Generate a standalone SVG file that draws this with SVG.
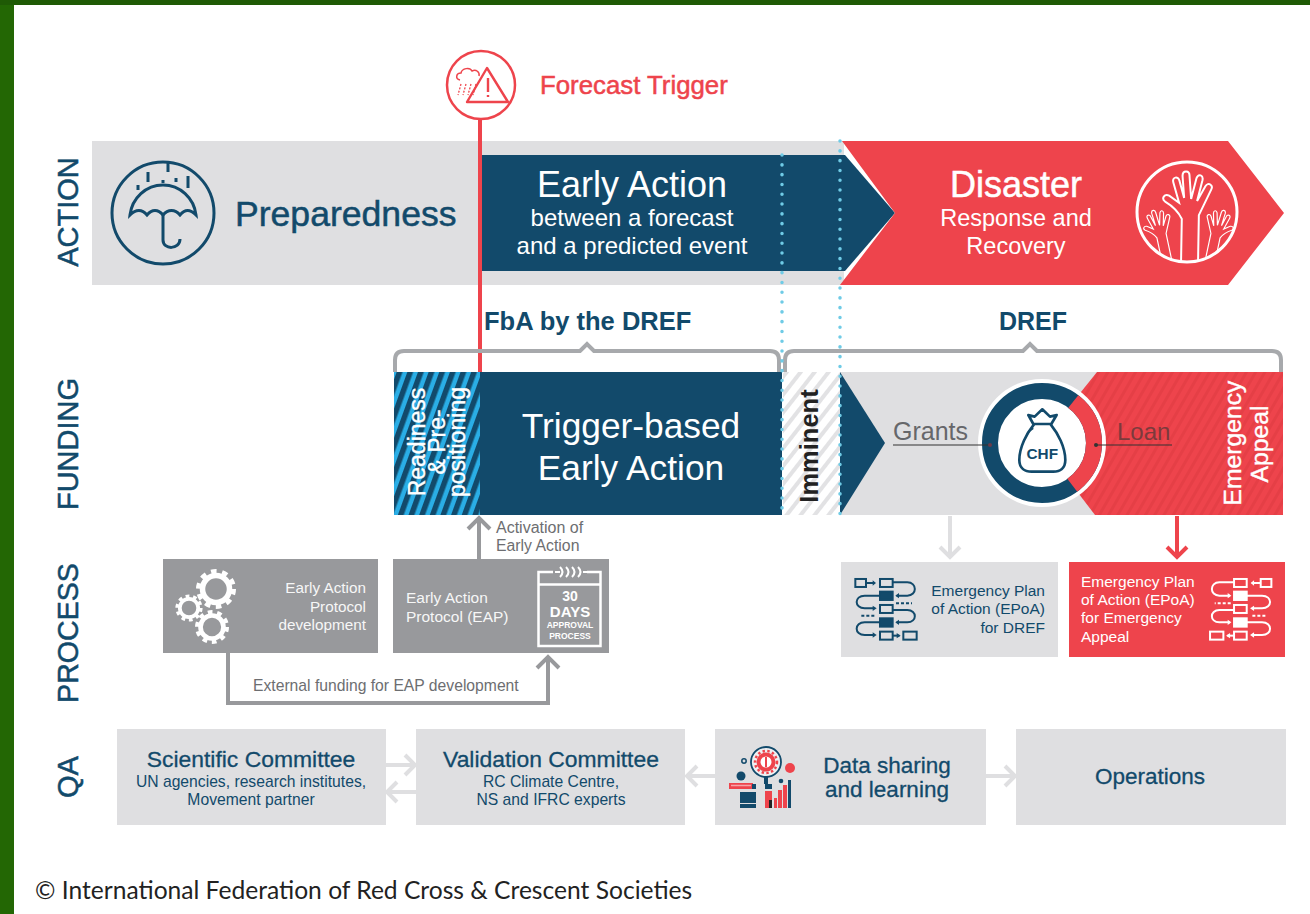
<svg xmlns="http://www.w3.org/2000/svg" xmlns:xlink="http://www.w3.org/1999/xlink" width="1310" height="914" viewBox="0 0 1310 914">
<style>
text{font-family:"Liberation Sans",Arial,sans-serif}
.navy{fill:#124a6b}
.w{fill:#fff}
.red{fill:#ee444c}
.g{fill:#dfdfe1}
.pg{fill:#98999c}
.m{text-anchor:middle}
.e{text-anchor:end}
.semi{stroke-width:.5;paint-order:stroke}
.axis{font-size:29px;fill:#124a6b;stroke:#124a6b;stroke-width:.5;text-anchor:middle}
.dot{fill:none;stroke:#6fcbe6;stroke-width:3.5;stroke-linecap:round;stroke-dasharray:.1 9.7}
.conn{fill:none;stroke-linejoin:miter}
.lg{stroke:#dfdfe1;stroke-width:4}
.dg{stroke:#98999c;stroke-width:4}
.brace{fill:none;stroke:#a7a9ac;stroke-width:4}
.qt{font-size:22.5px;fill:#124a6b;text-anchor:middle;stroke:#124a6b;stroke-width:.3}
.qc{font-size:22.9px}
.qs{font-size:15.7px;fill:#124a6b;text-anchor:middle}
.ep{font-size:15.5px}
</style>
<defs>
<pattern id="blueHatch" width="10" height="10" patternUnits="userSpaceOnUse" patternTransform="rotate(20)"><rect width="10" height="10" fill="#2aaee6"/><rect width="5.5" height="10" fill="#124a6b"/></pattern>
<pattern id="greyHatch" width="11" height="11" patternUnits="userSpaceOnUse" patternTransform="rotate(38)"><rect width="11" height="11" fill="#fff"/><rect width="4" height="11" fill="#e2e2e4"/></pattern>
<pattern id="redHatch" width="8" height="8" patternUnits="userSpaceOnUse" patternTransform="rotate(30)"><rect width="8" height="8" fill="#ee444c"/><rect width="3" height="8" fill="#e53f46"/></pattern>
<clipPath id="redRing"><polygon points="1097,372 1300,372 1300,515 1095,515 1040,443"/></clipPath>
<clipPath id="handClip"><circle cx="1187" cy="213" r="49"/></clipPath>
<g id="gearBig"><circle r="13.5" fill="none" stroke="#fff" stroke-width="5.500"/><circle r="17.5" fill="none" stroke="#fff" stroke-width="5" stroke-dasharray="5.5 5.5"/></g>
<path id="hand" d="M-8 62L-8 12C-12 4-18-1-25-5C-29-8-26-13-21-11L-11-4L-17-24C-19-30-12-31-11-26L-6-9L-8-31C-8-37-1-37-1-31L1-8L6-29C8-34 13-32 12-27L7-6L15-21C18-26 23-22 21-18L9 8L9 62" fill="none" stroke="#fff" stroke-width="2"/>
<g id="flow" fill="none" stroke="currentColor" stroke-width="6">
<rect x="76" y="657" width="32" height="24"/><rect x="150" y="657" width="38" height="24"/>
<path d="M108 669H135"/><path d="M128 661L138 669L128 677" fill="currentColor" stroke="none"/>
<path d="M188 667H232C262 667 262 707 232 707H200"/><path d="M207 699L196 707L207 715" fill="currentColor" stroke="none"/>
<rect x="150" y="695" width="38" height="25" fill="currentColor"/>
<path d="M150 707H104C72 707 72 745 104 745H132"/><path d="M128 737L140 745L128 753" fill="currentColor" stroke="none"/>
<rect x="150" y="735" width="38" height="24"/>
<path d="M198 730H246" stroke-dasharray="9 6"/>
<path d="M188 750H232C262 750 262 787 232 787H200"/><path d="M207 779L196 787L207 795" fill="currentColor" stroke="none"/>
<path d="M94 767H136" stroke-dasharray="9 6"/>
<rect x="150" y="775" width="38" height="25" fill="currentColor"/>
<path d="M150 787H104C72 787 72 825 104 825H132"/><path d="M128 817L140 825L128 833" fill="currentColor" stroke="none"/>
<rect x="150" y="815" width="38" height="24"/>
<path d="M188 827H208"/><path d="M200 819L212 827L200 835" fill="currentColor" stroke="none"/>
<rect x="220" y="815" width="40" height="24"/>
</g>
</defs>

<rect id="page-frame" width="1310" height="914" fill="#236704"/>
<rect id="page-frame-top" width="1310" height="5" fill="#1f5a05"/>
<rect id="page" x="14" y="5" width="1296" height="909" fill="#fff"/>

<g id="axis-labels">
<text class="axis" transform="translate(78 212) rotate(-90)">ACTION</text>
<text class="axis" transform="translate(78 444) rotate(-90)">FUNDING</text>
<text class="axis" style="font-size:28.6px" transform="translate(78 633) rotate(-90)">PROCESS</text>
<text class="axis" transform="translate(78 777) rotate(-90)">QA</text>
</g>

<g id="action-band">
<rect class="g" x="92" y="141" width="752" height="144"/>
</g>
<g id="preparedness">
<g fill="none" stroke="#124a6b" stroke-width="3">
<ellipse cx="163" cy="213" rx="51" ry="51"/>
<path d="M130 215C132 198 146 185 163 185C180 185 194 198 196 215C190 209 185 209 180 215C175 209 168 209 163 215C158 209 152 209 147 215C142 209 136 209 130 215Z"/>
<path d="M163 213V240C163 250 180 250 180 239"/>
<path d="M138 185V190M148 172V182M168 163V172M163 180V183M176 178V182M188 176V188"/>
</g>
<text class="navy semi" stroke="#124a6b" x="235" y="226" font-size="35.6">Preparedness</text>
</g>

<g id="early-action">
<polygon fill="#124a6b" points="481,155 845,155 895,213 845,271 481,271"/>
<text class="w m" x="632" y="197" font-size="36">Early Action</text>
<text class="w m" x="632" y="226" font-size="24">between a forecast</text>
<text class="w m" x="632" y="254" font-size="24">and a predicted event</text>
</g>

<g id="disaster">
<polygon class="red" points="842,141 1228,141 1284,213 1228,285 840,285 895,213"/>
<text class="w m semi" stroke="#fff" x="1016" y="197" font-size="36">Disaster</text>
<text class="w m" x="1016" y="226" font-size="23.5">Response and</text>
<text class="w m" x="1016" y="254" font-size="23.5">Recovery</text>
<circle cx="1187" cy="212" r="50" fill="none" stroke="#fff" stroke-width="3"/>
<g clip-path="url(#handClip)">
<use xlink:href="#hand" href="#hand" transform="translate(1160 230) rotate(-12) scale(.58)"/>
<use xlink:href="#hand" href="#hand" transform="translate(1217 230) rotate(12) scale(-.58 .58)"/>
<use xlink:href="#hand" href="#hand" transform="translate(1190 207) rotate(1)"/>
</g>
</g>

<g id="forecast-trigger">
<circle cx="481" cy="85" r="34" fill="#fff" stroke="#ee444c" stroke-width="2.5"/>
<path d="M487 68L508 102H467Z" fill="none" stroke="#ee444c" stroke-width="2.400" stroke-linejoin="round"/>
<path d="M488 78V92M488 95V97" stroke="#ee444c" stroke-width="2.4" fill="none"/>
<path d="M460 80C455 79 456 73 461 73C462 68 470 67 472 71C476 69 480 72 479 76" fill="none" stroke="#ee444c" stroke-width="1.5"/>
<path d="M461 84L458 95M466 84L463 95M471 84L468 95M476 84L473 95" fill="none" stroke="#ee444c" stroke-width="1.3" stroke-dasharray="2 1.5"/>
<text class="red semi" stroke="#ee444c" x="540" y="94" font-size="25.8">Forecast Trigger</text>
</g>

<g id="funding-labels">
<text class="navy" x="484" y="330" font-size="25.5" font-weight="bold">FbA by the DREF</text>
<text class="navy m" x="1033" y="330" font-size="25" font-weight="bold">DREF</text>
</g>

<g id="readiness">
<rect x="394" y="372" width="87" height="143" fill="url(#blueHatch)"/>
<g class="w" font-size="23" text-anchor="middle" stroke="#fff" stroke-width=".4">
<text transform="translate(425 442) rotate(-90)">Readiness</text>
<text transform="translate(445 442) rotate(-90)">&amp; Pre-</text>
<text transform="translate(465 442) rotate(-90)">positioning</text>
</g>
</g>

<g id="trigger-based">
<rect x="480" y="372" width="302" height="143" fill="#124a6b"/>
<text class="w m" x="631" y="438" font-size="35.3">Trigger-based</text>
<text class="w m" x="631" y="480" font-size="35.3">Early Action</text>
</g>

<g id="imminent">
<rect x="783" y="372" width="58" height="143" fill="url(#greyHatch)"/>
<text fill="#222" text-anchor="middle" font-weight="bold" font-size="25.5" transform="translate(818 446) rotate(-90)">Imminent</text>
</g>

<g id="dref-funding">
<rect class="g" x="840" y="372" width="443" height="143"/>
<polygon fill="#124a6b" points="840,372 885,443 840,515"/>
<polygon fill="url(#redHatch)" points="1097,372 1283,372 1283,515 1095,515 1040,443"/>
<circle cx="1042" cy="443" r="64" fill="#fff"/>
<circle cx="1042" cy="443" r="52" fill="none" stroke="#124a6b" stroke-width="16"/>
<circle cx="1042" cy="443" r="52" fill="none" stroke="#ee444c" stroke-width="16" clip-path="url(#redRing)"/>
<text fill="#66676a" x="893" y="440" font-size="25">Grants</text>
<path d="M893 445H990" stroke="#333" stroke-width="1.2"/><circle cx="990" cy="445" r="2" fill="#6b3a4a"/>
<text fill="#7c3a3c" x="1117" y="440" font-size="24">Loan</text>
<path d="M1096 445H1172" stroke="#333" stroke-width="1.2"/><circle cx="1096" cy="445" r="2" fill="#333"/>
<g transform="translate(830 360) scale(.3333)">
<path d="M612 193C590 220 568 262 568 300C568 325 585 335 605 335H670C690 335 706 325 706 300C706 262 684 220 662 193" fill="none" stroke="#124a6b" stroke-width="8"/>
<path d="M610 192H664L680 165L660 170L637 148L614 170L595 165Z" fill="none" stroke="#124a6b" stroke-width="8" stroke-linejoin="round"/>
<path d="M590 225C595 215 600 210 610 205" fill="none" stroke="#124a6b" stroke-width="5"/>
<text x="637" y="296" class="m" fill="#124a6b" font-size="46" font-weight="bold">CHF</text>
</g>
<g class="w" font-size="24.7" text-anchor="middle" stroke="#fff" stroke-width=".4">
<text transform="translate(1241 443) rotate(-90)">Emergency</text>
<text transform="translate(1268 444) rotate(-90)">Appeal</text>
</g>
</g>

<g id="connectors">
<path d="M480 120V372" fill="none" stroke="#ee444c" stroke-width="4"/>
<path class="brace" d="M395 372V360Q395 351 404 351H580L587 344L594 351H770Q779 351 779 360V372"/>
<path class="brace" d="M785 372V360Q785 351 794 351H1023L1030 344L1037 351H1272Q1281 351 1281 360V372"/>
<path class="dot" d="M782 155V515"/>
<path class="dot" d="M840 141V515"/>
<path class="conn dg" d="M479 559V520M468 529L479 518L490 529"/>
<path class="conn dg" d="M228 653V703H548V658M537 668L548 657L559 668"/>
<path class="conn lg" d="M950 516V556M940 547L950 557L960 547"/>
<path class="conn" stroke="#ee444c" stroke-width="4" d="M1177 516V556M1167 547L1177 557L1187 547"/>
<path class="conn lg" d="M386 765H414M405 755L415 765L405 775"/>
<path class="conn lg" d="M416 792H388M397 782L387 792L397 802"/>
<path class="conn lg" d="M715 776H688M697 766L687 776L697 786"/>
<path class="conn lg" d="M986 776H1014M1005 766L1015 776L1005 786"/>
</g>

<g id="eap-development">
<rect class="pg" x="163" y="559" width="215" height="94"/>
<use xlink:href="#gearBig" href="#gearBig" transform="translate(216 589)"/>
<use xlink:href="#gearBig" href="#gearBig" transform="translate(189 608) scale(.68)"/>
<use xlink:href="#gearBig" href="#gearBig" transform="translate(212 627) scale(.85)"/>
<g class="w e" font-size="15.3" opacity=".92">
<text x="366" y="593">Early Action</text>
<text x="366" y="612">Protocol</text>
<text x="366" y="630">development</text>
</g>
</g>

<g id="eap">
<rect class="pg" x="393" y="559" width="216" height="94"/>
<g class="w" font-size="15.5" opacity=".92">
<text x="406" y="603">Early Action</text>
<text x="406" y="622">Protocol (EAP)</text>
</g>
<g fill="none" stroke="#fff">
<rect x="538.500" y="572" width="62" height="74" stroke-width="2.5"/>
<path d="M538 584.500H601" stroke-width="2.500"/>
<rect x="553" y="566" width="34" height="10" fill="#98999c" stroke="none"/>
<path d="M555 572H560M560 567Q565 572 560 577M566 567Q571 572 566 577M572 567Q577 572 572 577M578 567Q583 572 578 577M583 572H587" stroke-width="2"/>
</g>
<g class="w m" font-weight="bold">
<text x="570" y="601" font-size="14">30</text>
<text x="570" y="617" font-size="15">DAYS</text>
<text x="570" y="628" font-size="8.5">APPROVAL</text>
<text x="570" y="639" font-size="8.5">PROCESS</text>
</g>
</g>

<g id="connector-labels" fill="#6d6e71">
<text x="496" y="533" font-size="16">Activation of</text>
<text x="496" y="551" font-size="15.8">Early Action</text>
<text x="253" y="691" font-size="15.7">External funding for EAP development</text>
</g>

<g id="epoa-dref">
<rect class="g" x="841" y="562" width="217" height="95"/>
<use xlink:href="#flow" href="#flow" transform="translate(830 360) scale(.3333)" style="color:#124a6b"/>
<g class="navy e ep">
<text x="1045" y="596">Emergency Plan</text>
<text x="1045" y="614">of Action (EPoA)</text>
<text x="1045" y="633">for DREF</text>
</g>
</g>

<g id="epoa-appeal">
<rect class="red" x="1069" y="562" width="216" height="95"/>
<use xlink:href="#flow" href="#flow" transform="translate(1296.700 360) scale(-.3333 .3333)" style="color:#fff"/>
<g class="w ep">
<text x="1081" y="587">Emergency Plan</text>
<text x="1081" y="605">of Action (EPoA)</text>
<text x="1081" y="623">for Emergency</text>
<text x="1081" y="642">Appeal</text>
</g>
</g>

<g id="scientific-committee">
<rect class="g" x="117" y="729" width="269" height="96"/>
<text class="qt qc" x="251" y="767">Scientific Committee</text>
<text class="qs" x="251" y="787">UN agencies, research institutes,</text>
<text class="qs" x="251" y="805">Movement partner</text>
</g>
<g id="validation-committee">
<rect class="g" x="416" y="729" width="269" height="96"/>
<text class="qt qc" x="551" y="767">Validation Committee</text>
<text class="qs" x="551" y="787">RC Climate Centre,</text>
<text class="qs" x="551" y="805">NS and IFRC experts</text>
</g>
<g id="data-sharing">
<rect class="g" x="715" y="729" width="271" height="96"/>
<circle cx="766" cy="762" r="15" fill="#eef0f2" stroke="#124a6b" stroke-width="1.8"/>
<circle cx="766" cy="762" r="7.500" fill="#fff" stroke="#ee444c" stroke-width="4"/>
<circle cx="766" cy="762" r="11" fill="none" stroke="#ee444c" stroke-width="2.500" stroke-dasharray="2.4 2.4"/>
<path d="M766 757V767" stroke="#ee444c" stroke-width="2"/>
<circle cx="790" cy="768" r="5" fill="#ee444c"/>
<circle cx="744" cy="761" r="2.200" fill="none" stroke="#124a6b" stroke-width="1.500"/>
<circle cx="741" cy="776" r="4.500" fill="#124a6b"/>
<circle cx="781" cy="781" r="2.300" fill="#124a6b"/>
<rect x="729" y="783" width="24" height="6" fill="#ee444c"/>
<path d="M731 785.500H751" stroke="#f6a5a9" stroke-width="1.500"/>
<rect x="752" y="784" width="4" height="5" fill="#124a6b"/>
<rect x="740" y="792" width="16" height="11" fill="#124a6b"/>
<rect x="740" y="804" width="16" height="4" fill="#124a6b"/>
<rect x="764" y="777" width="4" height="7" fill="#124a6b"/>
<rect x="765" y="784" width="7" height="5" fill="#124a6b"/>
<rect x="765" y="791" width="7" height="17" fill="#ee444c"/>
<rect x="769" y="800" width="3" height="8" fill="#222"/>
<rect x="774" y="798" width="3" height="10" fill="#ee444c"/>
<rect x="778" y="790" width="4" height="18" fill="#ee444c"/>
<rect x="783" y="785" width="4" height="23" fill="#ee444c"/>
<rect x="788" y="780" width="3" height="28" fill="#124a6b"/>
<text class="qt" x="887" y="773">Data sharing</text>
<text class="qt" x="887" y="797">and learning</text>
</g>
<g id="operations">
<rect class="g" x="1016" y="729" width="270" height="96"/>
<text class="qt" x="1150" y="784">Operations</text>
</g>

<text id="copyright" x="35" y="899" font-size="24.6" fill="#222" style="font-family:Lato,'Open Sans',sans-serif">© International Federation of Red Cross &amp; Crescent Societies</text>
</svg>
